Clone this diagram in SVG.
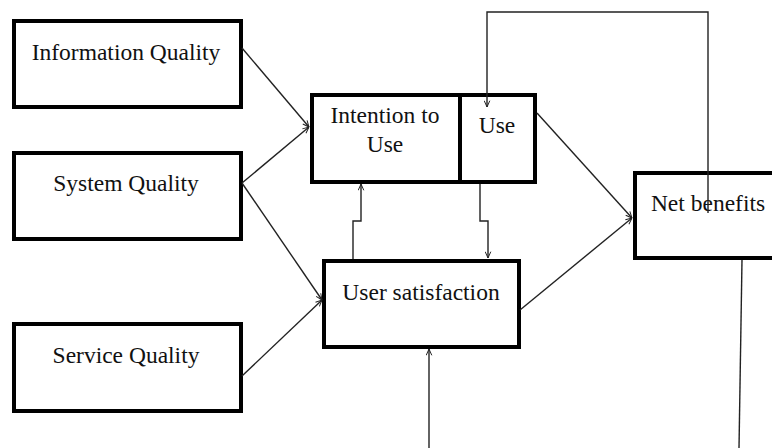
<svg xmlns="http://www.w3.org/2000/svg" width="772" height="448" viewBox="0 0 772 448">
<style>
.box{fill:#fff;stroke:#000;stroke-width:4}
.lbl{font-family:"Liberation Serif","Times New Roman",serif;font-size:23.5px;fill:#111;text-anchor:middle}
.c{fill:none;stroke:#222;stroke-width:1.4}
</style>
<defs>
<marker id="a" viewBox="0 0 10 10" refX="10" refY="5" markerWidth="7" markerHeight="7" orient="auto" markerUnits="userSpaceOnUse">
<path d="M1,1 L10,5 L1,9" fill="none" stroke="#222" stroke-width="1.4"/>
</marker>
</defs>
<g id="information-quality">
<rect class="box" x="14" y="21" width="227" height="86"/>
<text class="lbl" x="126" y="60">Information Quality</text>
</g>
<g id="system-quality">
<rect class="box" x="14" y="153" width="227" height="86"/>
<text class="lbl" x="126" y="191">System Quality</text>
</g>
<g id="service-quality">
<rect class="box" x="14" y="324" width="227" height="87"/>
<text class="lbl" x="126" y="363">Service Quality</text>
</g>
<g id="intention-to-use">
<rect class="box" x="312" y="95" width="148" height="87"/>
<text class="lbl" x="385" y="123">Intention to</text>
<text class="lbl" x="385" y="152">Use</text>
</g>
<g id="use">
<rect class="box" x="460" y="95" width="75" height="87"/>
<text class="lbl" x="497" y="133">Use</text>
</g>
<g id="user-satisfaction">
<rect class="box" x="324" y="261" width="195" height="86"/>
<text class="lbl" x="421" y="300">User satisfaction</text>
</g>
<g id="net-benefits">
<rect class="box" x="635" y="173" width="141" height="85"/>
<text class="lbl" x="708" y="211">Net benefits</text>
</g>
<g id="connectors">
<line class="c" x1="242" y1="48" x2="309" y2="127" marker-end="url(#a)"/>
<line class="c" x1="242" y1="183" x2="309" y2="127" marker-end="url(#a)"/>
<line class="c" x1="242" y1="183" x2="322" y2="300" marker-end="url(#a)"/>
<line class="c" x1="242" y1="376" x2="322" y2="300" marker-end="url(#a)"/>
<line class="c" x1="537" y1="113" x2="632" y2="218" marker-end="url(#a)"/>
<line class="c" x1="520" y1="310" x2="632" y2="218" marker-end="url(#a)"/>
<polyline class="c" points="353,259 353,221 361,221 361,184" marker-end="url(#a)"/>
<polyline class="c" points="480,184 480,221 488,221 488,258" marker-end="url(#a)"/>
<line class="c" x1="429" y1="448" x2="429" y2="349" marker-end="url(#a)"/>
<polyline class="c" points="708,213 708,12 487,12 487,107" marker-end="url(#a)"/>
<line class="c" x1="742" y1="260" x2="739" y2="448"/>
</g>
</svg>
